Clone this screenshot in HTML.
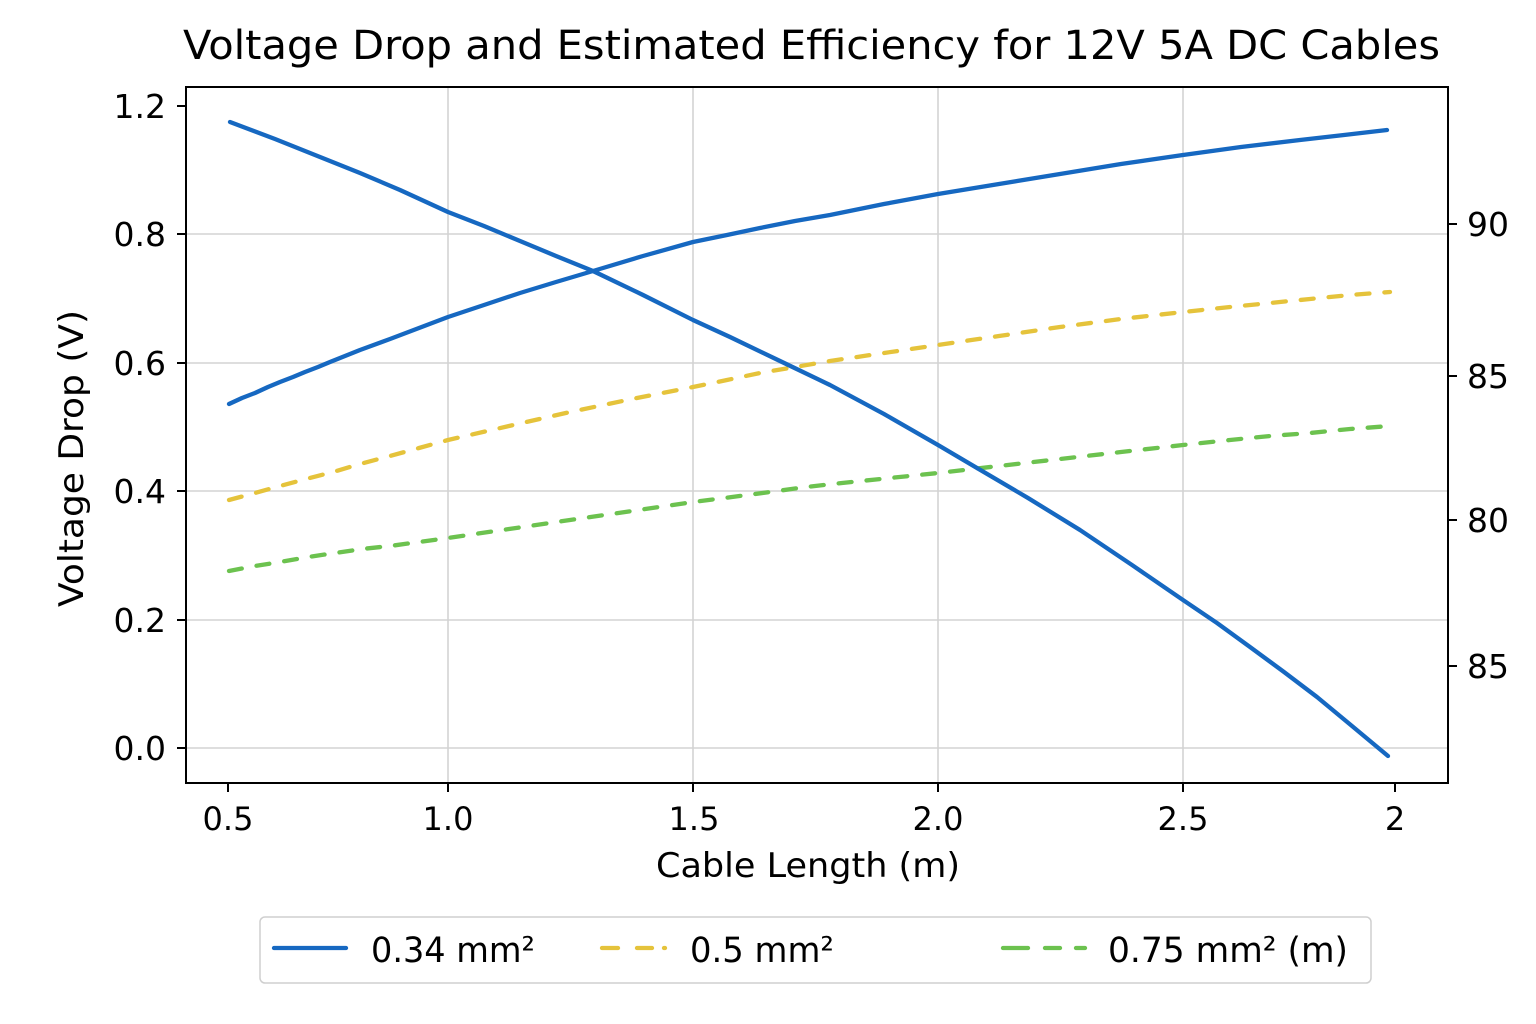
<!DOCTYPE html>
<html>
<head>
<meta charset="utf-8">
<style>
  html, body { margin: 0; padding: 0; background: #ffffff; }
  svg { display: block; }
  text { font-family: "DejaVu Sans", "Liberation Sans", sans-serif; fill: #000; }
</style>
</head>
<body>
<svg width="1536" height="1024" viewBox="0 0 1536 1024" xmlns="http://www.w3.org/2000/svg">
  <rect x="0" y="0" width="1536" height="1024" fill="#ffffff"/>

  <!-- Title -->
  <text x="183" y="59" font-size="40" textLength="1257" lengthAdjust="spacingAndGlyphs">Voltage Drop and Estimated Efficiency for 12V 5A DC Cables</text>

  <!-- Gridlines -->
  <g stroke="#d3d3d3" stroke-width="1.6">
    <line x1="448" y1="87" x2="448" y2="783"/>
    <line x1="693" y1="87" x2="693" y2="783"/>
    <line x1="938" y1="87" x2="938" y2="783"/>
    <line x1="1183" y1="87" x2="1183" y2="783"/>
    <line x1="186" y1="234" x2="1448" y2="234"/>
    <line x1="186" y1="363" x2="1448" y2="363"/>
    <line x1="186" y1="491" x2="1448" y2="491"/>
    <line x1="186" y1="620" x2="1448" y2="620"/>
    <line x1="186" y1="748" x2="1448" y2="748"/>
  </g>

  <!-- Series -->
  <g fill="none" stroke-width="4.3" stroke-linecap="round" stroke-linejoin="round">
    <!-- yellow dashed -->
    <polyline stroke="#e5c33b" stroke-dasharray="13 15"
      points="229,500 255,493 280,486 306,479 333,472 360,464 390,456 419,448 448,440 509,426 570,412 632,399 693,387 727,380 760,373 795,367 830,361 884,353 938,345 999,336 1060,327 1121,319 1183,312 1230,307 1270,303 1310,299 1350,295 1390,292"/>
    <!-- green dashed -->
    <polyline stroke="#6cc24f" stroke-dasharray="13 15"
      points="229,571 255,566 280,562 308,557 335,553 362,549 390,546 419,542 448,538 509,529 570,520 632,511 693,502 732,497 770,492 806,487 842,483 890,478 938,473 999,466 1060,459 1121,452 1183,445 1230,440 1270,436 1310,433 1350,429 1390,426"/>
    <!-- blue increasing -->
    <polyline stroke="#1668c1"
      points="229,404 242,398 255,393 268,387 280,382 293,377 305,372 318,367 330,362 360,350 390,339 419,328 448,317 484,305 520,293 556,282 593,271 643,256 693,242 727,235 760,228 795,221 830,215 884,204 938,194 999,184 1060,174 1121,164 1183,155 1241,147 1300,140 1344,135 1387,130"/>
    <!-- blue decreasing -->
    <polyline stroke="#1668c1"
      points="230,122 275,139 320,157 360,173 400,190 424,201 448,212 484,226 520,241 556,256 593,271 643,295 693,320 730,337 780,361 830,385 884,414 938,445 977,468 1028,498 1080,530 1132,565 1183,600 1217,623 1250,647 1284,672 1317,697 1352,726 1388,756"/>
  </g>

  <!-- Axes frame -->
  <rect x="186" y="87" width="1262" height="696" fill="none" stroke="#000" stroke-width="2"/>

  <!-- Ticks -->
  <g stroke="#000" stroke-width="2">
    <line x1="177" y1="106" x2="186" y2="106"/>
    <line x1="177" y1="234" x2="186" y2="234"/>
    <line x1="177" y1="363" x2="186" y2="363"/>
    <line x1="177" y1="491" x2="186" y2="491"/>
    <line x1="177" y1="620" x2="186" y2="620"/>
    <line x1="177" y1="748" x2="186" y2="748"/>
    <line x1="228" y1="783" x2="228" y2="792"/>
    <line x1="448" y1="783" x2="448" y2="792"/>
    <line x1="693" y1="783" x2="693" y2="792"/>
    <line x1="938" y1="783" x2="938" y2="792"/>
    <line x1="1183" y1="783" x2="1183" y2="792"/>
    <line x1="1395" y1="783" x2="1395" y2="792"/>
    <line x1="1448" y1="224" x2="1457" y2="224"/>
    <line x1="1448" y1="376" x2="1457" y2="376"/>
    <line x1="1448" y1="520" x2="1457" y2="520"/>
    <line x1="1448" y1="666" x2="1457" y2="666"/>
  </g>

  <!-- Left tick labels -->
  <g font-size="33" text-anchor="end">
    <text x="166" y="118">1.2</text>
    <text x="166" y="246">0.8</text>
    <text x="166" y="375">0.6</text>
    <text x="166" y="503">0.4</text>
    <text x="166" y="632">0.2</text>
    <text x="166" y="760">0.0</text>
  </g>

  <!-- Right tick labels -->
  <g font-size="33">
    <text x="1467" y="236">90</text>
    <text x="1467" y="388">85</text>
    <text x="1467" y="532">80</text>
    <text x="1467" y="678">85</text>
  </g>

  <!-- Bottom tick labels -->
  <g font-size="32" text-anchor="middle">
    <text x="228" y="830">0.5</text>
    <text x="448" y="830">1.0</text>
    <text x="694" y="830">1.5</text>
    <text x="938" y="830">2.0</text>
    <text x="1183" y="830">2.5</text>
    <text x="1395" y="830">2</text>
  </g>

  <!-- Axis labels -->
  <text x="656" y="877" font-size="34" textLength="304" lengthAdjust="spacingAndGlyphs">Cable Length (m)</text>
  <text transform="translate(83,607) rotate(-90)" font-size="34" textLength="297" lengthAdjust="spacingAndGlyphs">Voltage Drop (V)</text>

  <!-- Legend -->
  <rect x="260" y="917" width="1111" height="66" rx="5" ry="5" fill="#ffffff" stroke="#cfcfcf" stroke-width="1.5"/>
  <line x1="274" y1="948" x2="346" y2="948" stroke="#1668c1" stroke-width="4.3" stroke-linecap="round"/>
  <text x="371" y="962" font-size="35" textLength="164" lengthAdjust="spacingAndGlyphs">0.34 mm²</text>

  <g stroke="#e5c33b" stroke-width="4.3" stroke-linecap="round">
    <line x1="602" y1="948" x2="618" y2="948"/>
    <line x1="637" y1="948" x2="652" y2="948"/>
    <line x1="664" y1="948" x2="665" y2="948"/>
  </g>
  <text x="690" y="962" font-size="35" textLength="144" lengthAdjust="spacingAndGlyphs">0.5 mm²</text>

  <g stroke="#6cc24f" stroke-width="4.3" stroke-linecap="round">
    <line x1="1003" y1="948" x2="1028" y2="948"/>
    <line x1="1045" y1="948" x2="1060" y2="948"/>
    <line x1="1076" y1="948" x2="1085" y2="948"/>
  </g>
  <text x="1108" y="962" font-size="35" textLength="240" lengthAdjust="spacingAndGlyphs">0.75 mm² (m)</text>
</svg>
</body>
</html>
